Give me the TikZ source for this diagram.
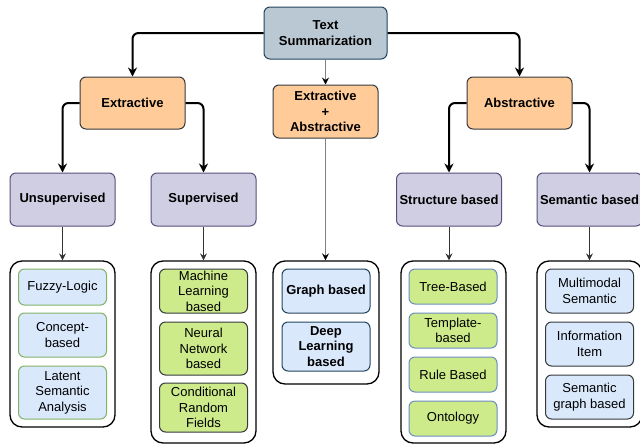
\documentclass[tikz,border=0pt]{standalone}
\usepackage{fontspec}
\setmainfont{Liberation Sans}
\usetikzlibrary{arrows.meta}
\definecolor{tsfill}{HTML}{BAC8D3}
\definecolor{tsdraw}{HTML}{23445D}
\definecolor{orfill}{HTML}{FFCC99}
\definecolor{dkdraw}{HTML}{36393D}
\definecolor{pufill}{HTML}{D0CEE2}
\definecolor{pudraw}{HTML}{56517E}
\definecolor{lbfill}{HTML}{DAE8FC}
\definecolor{grfill}{HTML}{CDEB8B}
\definecolor{grdraw}{HTML}{82B366}
\definecolor{bldraw}{HTML}{6C8EBF}
\definecolor{midline}{HTML}{808080}
\tikzset{
  txt/.style={font=\fontsize{13}{15.5}\selectfont},
  box/.style={txt, rounded corners=6, draw, line width=1, align=center, inner sep=0pt},
  bold/.style={font=\fontsize{13}{15.5}\selectfont\bfseries},
  tsbox/.style={box, bold, fill=tsfill, draw=tsdraw},
  orbox/.style={box, bold, fill=orfill, draw=dkdraw},
  pubox/.style={box, bold, fill=pufill, draw=pudraw, minimum width=105, minimum height=53},
  cont/.style={draw=black, line width=1.3, rounded corners=12, minimum width=105, inner sep=0pt},
  lbg/.style={box, fill=lbfill, draw=grdraw, minimum width=88},
  grd/.style={box, fill=grfill, draw=dkdraw, minimum width=88},
  lbt/.style={box, bold, fill=lbfill, draw=tsdraw, minimum width=88},
  grb/.style={box, fill=grfill, draw=bldraw, minimum width=88},
  lbd/.style={box, fill=lbfill, draw=dkdraw, minimum width=88},
  bigarrow/.style={line width=2, rounded corners=6, -{Stealth[length=9,width=9,inset=3]}},
  smallarrow/.style={line width=1, draw=black!80, -{Stealth[length=7,width=7,inset=2.5]}},
  midarrow/.style={line width=1.5, draw=midline, -{Stealth[length=7,width=7,inset=2.5,color=black]}},
}
\begin{document}
\begin{tikzpicture}[x=1pt,y=-1pt]
\useasboundingbox[fill=white] (0,0) rectangle (640,445);
% level 0 and 1
\node[tsbox, minimum width=123, minimum height=52] (ts) at (325.5,33) {Text\\Summarization};
\node[orbox, minimum width=105, minimum height=52] (ext) at (132.5,103) {Extractive};
\node[orbox, minimum width=105, minimum height=53] (ea) at (325.5,111.5) {Extractive\\+\\Abstractive};
\node[orbox, minimum width=105, minimum height=52] (abs) at (519.5,103) {Abstractive};
% level 2
\node[pubox] (uns) at (62.5,199.5) {Unsupervised};
\node[pubox] (sup) at (203.5,199.5) {Supervised};
\node[pubox] (str) at (449,199.5) {Structure based};
\node[pubox] (sem) at (589.5,199.5) {Semantic based};
% containers
\node[cont, minimum height=166] (c1) at (62.5,344) {};
\node[cont, minimum height=182] (c2) at (203.5,352) {};
\node[cont, minimum width=106, minimum height=123] (c3) at (326,322.5) {};
\node[cont, minimum height=182] (c4) at (453.5,352) {};
\node[cont, minimum height=166] (c5) at (589.5,344) {};
% container 1
\node[lbg, minimum height=36] (fl) at (62.5,287) {Fuzzy-Logic};
\node[lbg, minimum height=44] (cb) at (62.5,335) {Concept-\\based};
\node[lbg, minimum height=53] (lsa) at (62.5,392.5) {Latent\\Semantic\\Analysis};
% container 2
\node[grd, minimum height=44] (ml) at (203.5,291) {Machine\\Learning\\based};
\node[grd, minimum height=53] (nn) at (203.5,348.5) {Neural\\Network\\based};
\node[grd, minimum height=49] (crf) at (203.5,407.5) {Conditional\\Random\\Fields};
% container 3
\node[lbt, minimum height=44] (gb) at (326,291) {Graph based};
\node[lbt, minimum height=49] (dl) at (326,346.5) {Deep\\Learning\\based};
% container 4
\node[grb, minimum height=35] (tb) at (453,286.5) {Tree-Based};
\node[grb, minimum height=35] (tpl) at (453,330.5) {Template-\\based};
\node[grb, minimum height=35] (rb) at (453,374.5) {Rule Based};
\node[grb, minimum height=35] (ont) at (453,418.5) {Ontology};
% container 5
\node[lbd, minimum height=44] (mm) at (589.5,291) {Multimodal\\Semantic};
\node[lbd, minimum height=44] (ii) at (589.5,344) {Information\\Item};
\node[lbd, minimum height=44] (sg) at (589.5,397) {Semantic\\graph based};
% connectors
\draw[bigarrow] (ts.west) -| (ext.north);
\draw[bigarrow] (ts.east) -| (abs.north);
\draw[midarrow] (ts.south) -- (ea.north);
\draw[bigarrow] (ext.west) -| (uns.north);
\draw[bigarrow] (ext.east) -| (sup.north);
\draw[bigarrow] (abs.west) -| (str.north);
\draw[bigarrow] (abs.east) -| (sem.north);
\draw[smallarrow] (uns.south) -- (uns.south |- c1.north);
\draw[smallarrow] (sup.south) -- (sup.south |- c2.north);
\draw[midarrow] (ea.south) -- (ea.south |- c3.north);
\draw[smallarrow] (str.south) -- (str.south |- c4.north);
\draw[smallarrow] (sem.south) -- (sem.south |- c5.north);
\end{tikzpicture}
\end{document}
